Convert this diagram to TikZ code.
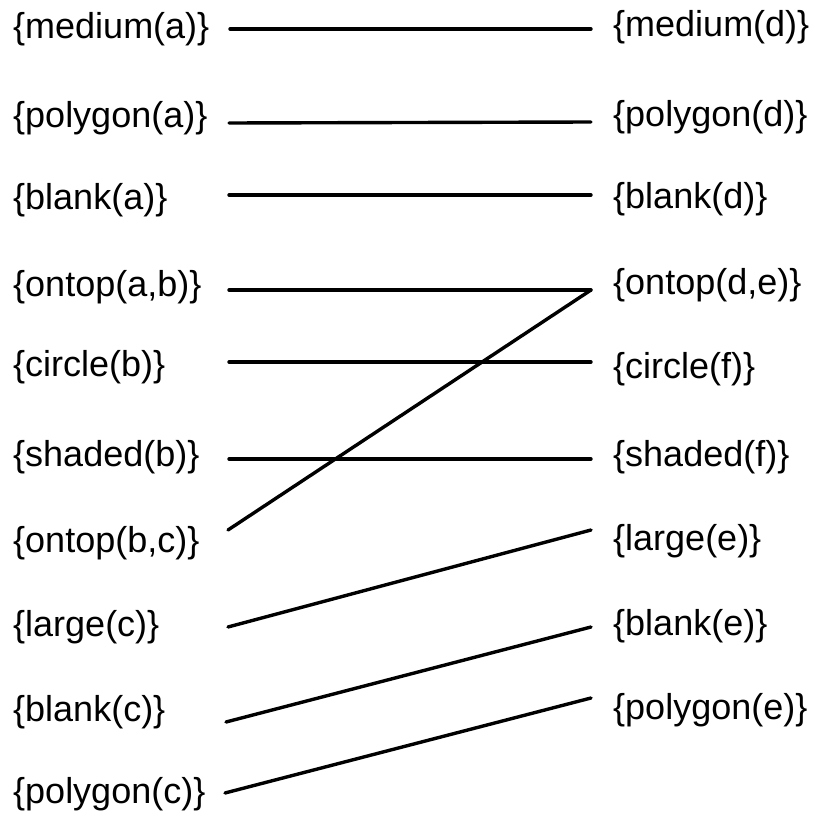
\documentclass[tikz,border=0pt]{standalone}
\usepackage{fontspec}
\setmainfont{Liberation Sans}
\begin{document}
\begin{tikzpicture}[x=1pt,y=-1pt,
  lab/.style={anchor=west,inner sep=0pt,font=\fontsize{36}{42}\selectfont,text height=26.6pt,text depth=7.6pt},
  link/.style={line width=3.4pt,line cap=round}]
\useasboundingbox (0,0) rectangle (817,816);
% left column
\node[lab] (l1) at (13,29) {\{medium(a)\}};
\node[lab] (l2) at (13,118) {\{polygon(a)\}};
\node[lab] (l3) at (13,200) {\{blank(a)\}};
\node[lab] (l4) at (13,287) {\{ontop(a,b)\}};
\node[lab] (l5) at (13,367) {\{circle(b)\}};
\node[lab] (l6) at (13,457) {\{shaded(b)\}};
\node[lab] (l7) at (13,543) {\{ontop(b,c)\}};
\node[lab] (l8) at (13,627) {\{large(c)\}};
\node[lab] (l9) at (13,712) {\{blank(c)\}};
\node[lab] (l10) at (13,794) {\{polygon(c)\}};
% right column
\node[lab] (r1) at (613,27) {\{medium(d)\}};
\node[lab] (r2) at (613,117) {\{polygon(d)\}};
\node[lab] (r3) at (613,199) {\{blank(d)\}};
\node[lab] (r4) at (613,285) {\{ontop(d,e)\}};
\node[lab] (r5) at (613,369) {\{circle(f)\}};
\node[lab] (r6) at (613,457) {\{shaded(f)\}};
\node[lab] (r7) at (613,541) {\{large(e)\}};
\node[lab] (r8) at (613,626) {\{blank(e)\}};
\node[lab] (r9) at (613,710) {\{polygon(e)\}};
% connector end points
\coordinate (a1) at (230,29);  \coordinate (b1) at (591,29);
\coordinate (a2) at (229,123); \coordinate (b2) at (591,122);
\coordinate (a3) at (229,195); \coordinate (b3) at (591,195);
\coordinate (a4) at (229,290); \coordinate (b4) at (591,290);
\coordinate (a5) at (229,362); \coordinate (b5) at (591,362);
\coordinate (a6) at (229,459); \coordinate (b6) at (591,459);
\coordinate (a7) at (228,530);
\coordinate (a8) at (228,627); \coordinate (b7) at (591,530);
\coordinate (a9) at (226,722); \coordinate (b8) at (591,627);
\coordinate (a10) at (225,793); \coordinate (b9) at (591,698);
% connectors
\draw[link] (a1) -- (b1);
\draw[link] (a2) -- (b2);
\draw[link] (a3) -- (b3);
\draw[link] (a4) -- (b4);
\draw[link] (b4) -- (a7);
\draw[link] (a5) -- (b5);
\draw[link] (a6) -- (b6);
\draw[link] (a8) -- (b7);
\draw[link] (a9) -- (b8);
\draw[link] (a10) -- (b9);
\end{tikzpicture}
\end{document}
